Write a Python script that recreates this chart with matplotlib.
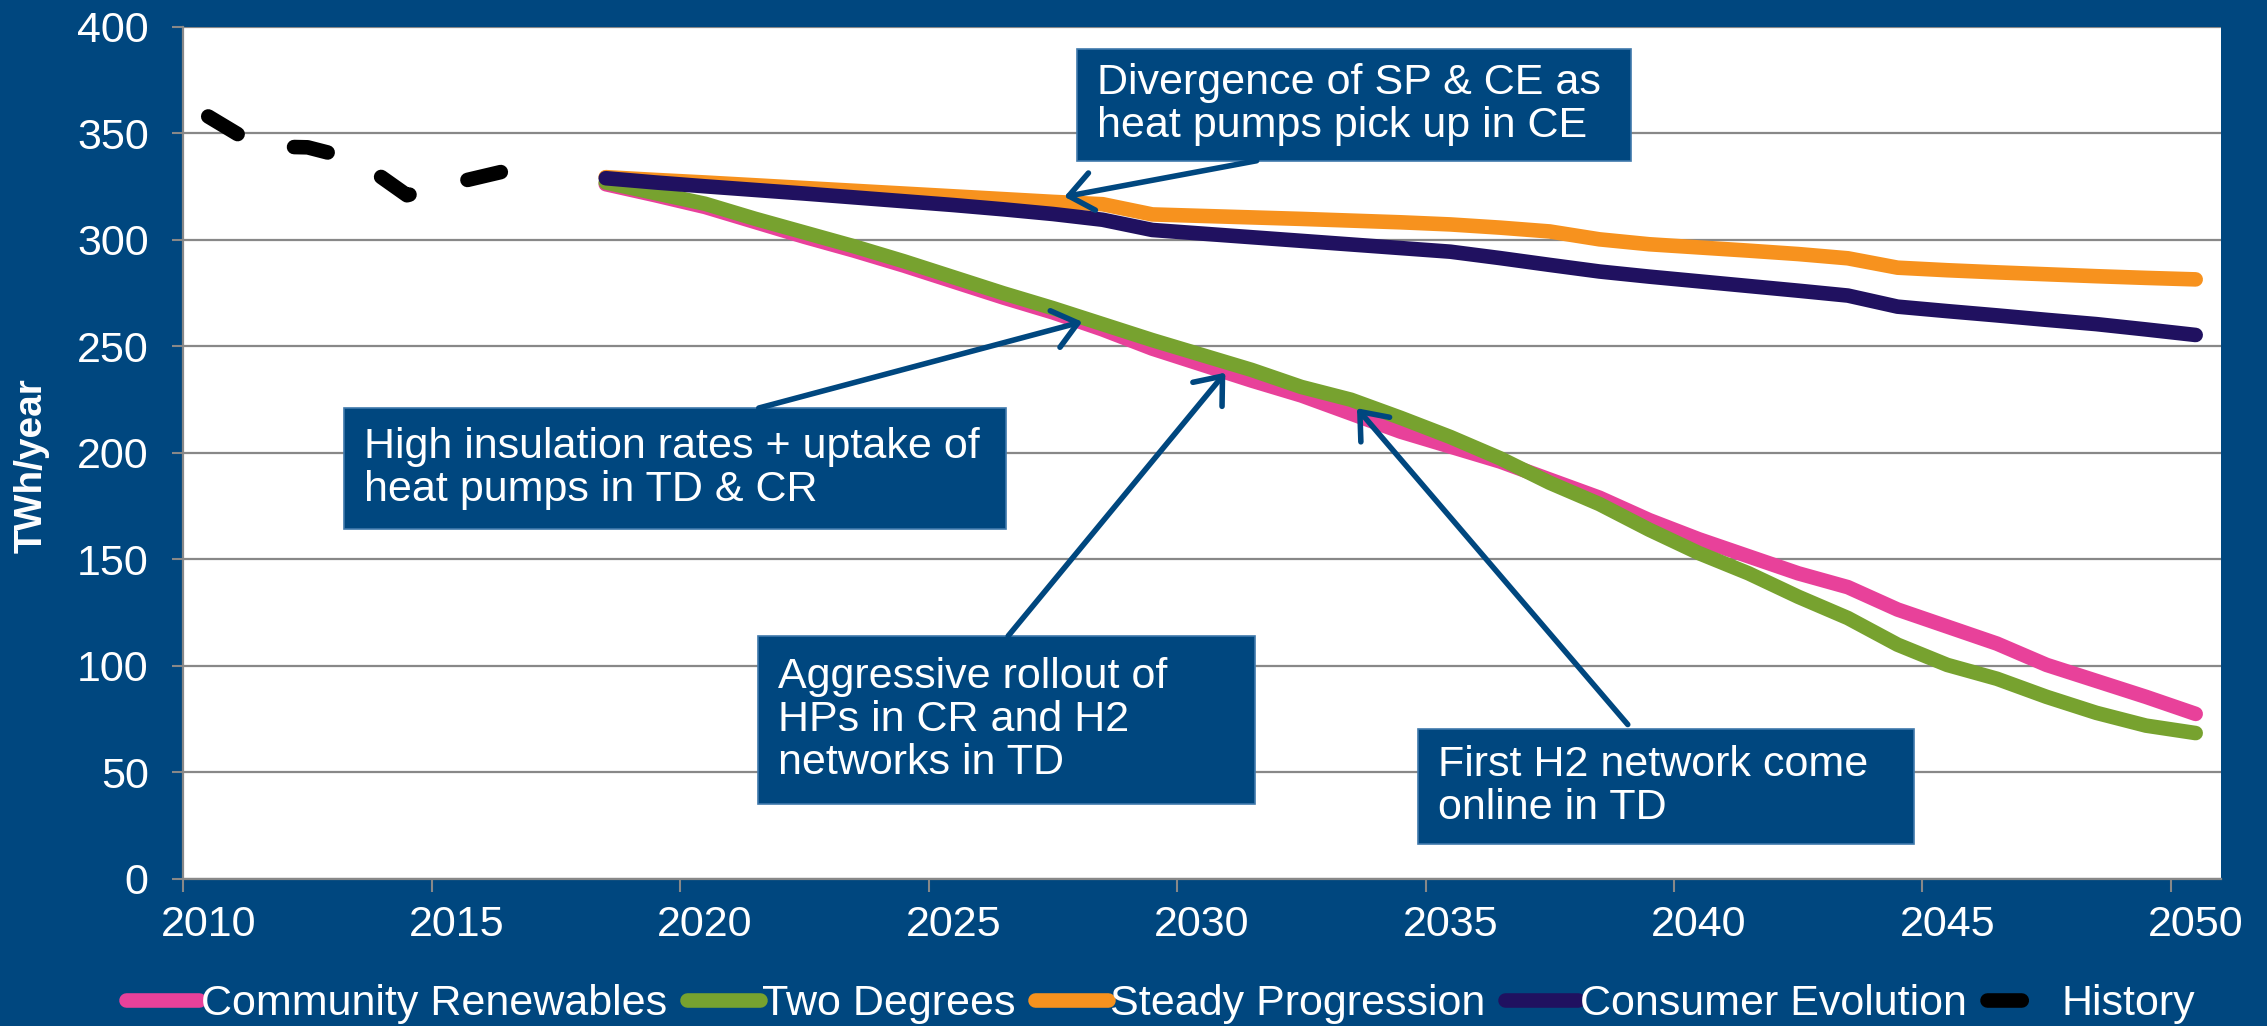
import matplotlib
matplotlib.use('Agg')
import matplotlib.pyplot as plt
from matplotlib.patches import Rectangle

plt.rcParams['font.family'] = ['Liberation Sans', 'DejaVu Sans']

# ---------------- data ----------------
years_hist = [2010, 2011, 2012, 2013, 2014, 2015, 2016]
history = [358, 344, 343.5, 337.5, 321, 327, 332.5]

years = list(range(2018, 2051))
community_renewables = [326.2, 321, 315.5, 308.5, 301.5, 295, 288, 280.5, 273, 266, 258,
                        249, 241.5, 234, 227, 218.5, 210, 203, 196, 187.5, 179,
                        168.5, 159.5, 151.5, 143.5, 137, 126.5, 118.5, 110.5, 100.5, 93, 85.5, 77.5]
two_degrees = [327, 322, 317, 310, 303.5, 297, 290, 282.5, 275, 268, 260.5,
               253, 246, 239, 231, 225, 216.5, 207.5, 197.5, 186, 176,
               164, 153, 143.5, 132.5, 122.5, 110, 100.5, 94, 85.5, 78, 72, 68.5]
steady_progression = [329.5, 328.2, 327, 325.7, 324.4, 323.1, 321.8, 320.5, 319.2, 317.9, 316.8,
                      312, 311.3, 310.6, 309.9, 309.1, 308.3, 307.3, 305.8, 304, 300.3,
                      298, 296.5, 295, 293.4, 291.4, 287, 285.8, 284.8, 283.9, 283, 282.2, 281.5]
consumer_evolution = [329, 327, 325.2, 323.5, 321.8, 320, 318.2, 316.4, 314.4, 312.2, 309.5,
                      304.7, 303, 301.3, 299.6, 297.9, 296.2, 294.5, 291.5, 288.3, 285.2,
                      282.8, 280.6, 278.4, 276.2, 273.9, 268.7, 266.6, 264.6, 262.5, 260.5, 258, 255.4]

series_names = ['Community Renewables', 'Two Degrees', 'Steady Progression', 'Consumer Evolution', 'History']

x_tick_labels = ['2010', '2015', '2020', '2025', '2030', '2035', '2040', '2045', '2050']
y_ticks = [0, 50, 100, 150, 200, 250, 300, 350, 400]

notes = [
    "Divergence of SP & CE as\nheat pumps pick up in CE",
    "High insulation rates + uptake of\nheat pumps in TD & CR",
    "Aggressive rollout of\nHPs in CR and H2\nnetworks in TD",
    "First H2 network come\nonline in TD",
]

# ---------------- style ----------------
BG = '#00477F'
BOX = '#00477F'
GRID = '#888888'
colors = ['#E8419A', '#77A22F', '#F7921E', '#201160', '#000000']
LW = 10.5
FS = 31

fig = plt.figure(figsize=(22.67, 10.26), dpi=100, facecolor=BG)
ax = fig.add_axes([0.0809, 0.1433, 0.8986, 0.8304])
ax.set_facecolor('white')
ax.set_xlim(2009.5, 2050.5)
ax.set_ylim(0, 400)

line_kw = dict(lw=LW, solid_capstyle='round', solid_joinstyle='round')
for vals, c, name in zip([community_renewables, two_degrees, steady_progression, consumer_evolution],
                         colors[:4], series_names[:4]):
    ax.plot(years, vals, color=c, label=name, zorder=3, **line_kw)
ax.plot(years_hist, history, color=colors[4], label=series_names[4], lw=LW,
        linestyle=(0, (2.35, 4.1)), dash_capstyle='round', dash_joinstyle='round', zorder=3)

# grid & axes
ax.set_yticks(y_ticks)
ax.yaxis.grid(True, color=GRID, lw=1.6, zorder=0)
ax.set_axisbelow(True)
for s in ['top', 'right']:
    ax.spines[s].set_visible(False)
for s in ['left', 'bottom']:
    ax.spines[s].set_color(GRID)
    ax.spines[s].set_linewidth(1.6)
ax.tick_params(axis='y', colors=GRID, labelcolor='white', labelsize=FS, length=8, width=1.5, pad=17)

label_years = [int(t) for t in x_tick_labels]
ax.set_xticks([y - 0.5 for y in label_years])
ax.set_xticklabels([])
ax.set_xticks(label_years, minor=True)
ax.set_xticklabels(x_tick_labels, minor=True)
ax.tick_params(axis='x', which='major', colors=GRID, length=9, width=1.5)
ax.tick_params(axis='x', which='minor', length=0, labelcolor='white', labelsize=FS, pad=19)

fig.text(32 / 2267, 1 - 466 / 1026, 'TWh/year', rotation=90, color='white', fontsize=28,
         fontweight='bold', ha='center', va='center')

# annotations: box (x0, y0, x1, y1) in data units, arrow tail, arrow tip
boxes = [(2027.49, 337.2, 2038.63, 389.7),
         (2012.74, 164.3, 2026.06, 221.1),
         (2021.07, 35.2, 2031.06, 114.1),
         (2034.35, 16.4, 2044.34, 70.4)]
tails = [(2031.1, 337.2), (2021.08, 221.1), (2026.1, 114.1), (2038.57, 72.5)]
tips = [(2027.23, 320.3), (2027.59, 261.6), (2030.47, 237.7), (2033.12, 221.0)]
for txt, (x0, y0, x1, y1), tail, tip in zip(notes, boxes, tails, tips):
    ax.add_patch(Rectangle((x0, y0), x1 - x0, y1 - y0, facecolor=BOX, edgecolor='#3F79AC',
                           lw=1.2, zorder=5))
    ax.text(x0 + 0.4, (y0 + y1) / 2, txt, color='white', fontsize=FS, ha='left', va='center',
            linespacing=1.1, zorder=6)
    ax.annotate('', xy=tip, xytext=tail,
                arrowprops=dict(arrowstyle='->,head_length=0.5,head_width=0.4', lw=4,
                                color=BOX, mutation_scale=34, shrinkA=0, shrinkB=0),
                zorder=7)

leg = fig.legend(loc='center', bbox_to_anchor=(0.512, 0.021), ncol=5, frameon=False,
                 fontsize=FS, handlelength=1.7, handletextpad=0.05, columnspacing=0.45,
                 labelcolor='white')

fig.savefig('out.png', dpi=100, facecolor=BG)
